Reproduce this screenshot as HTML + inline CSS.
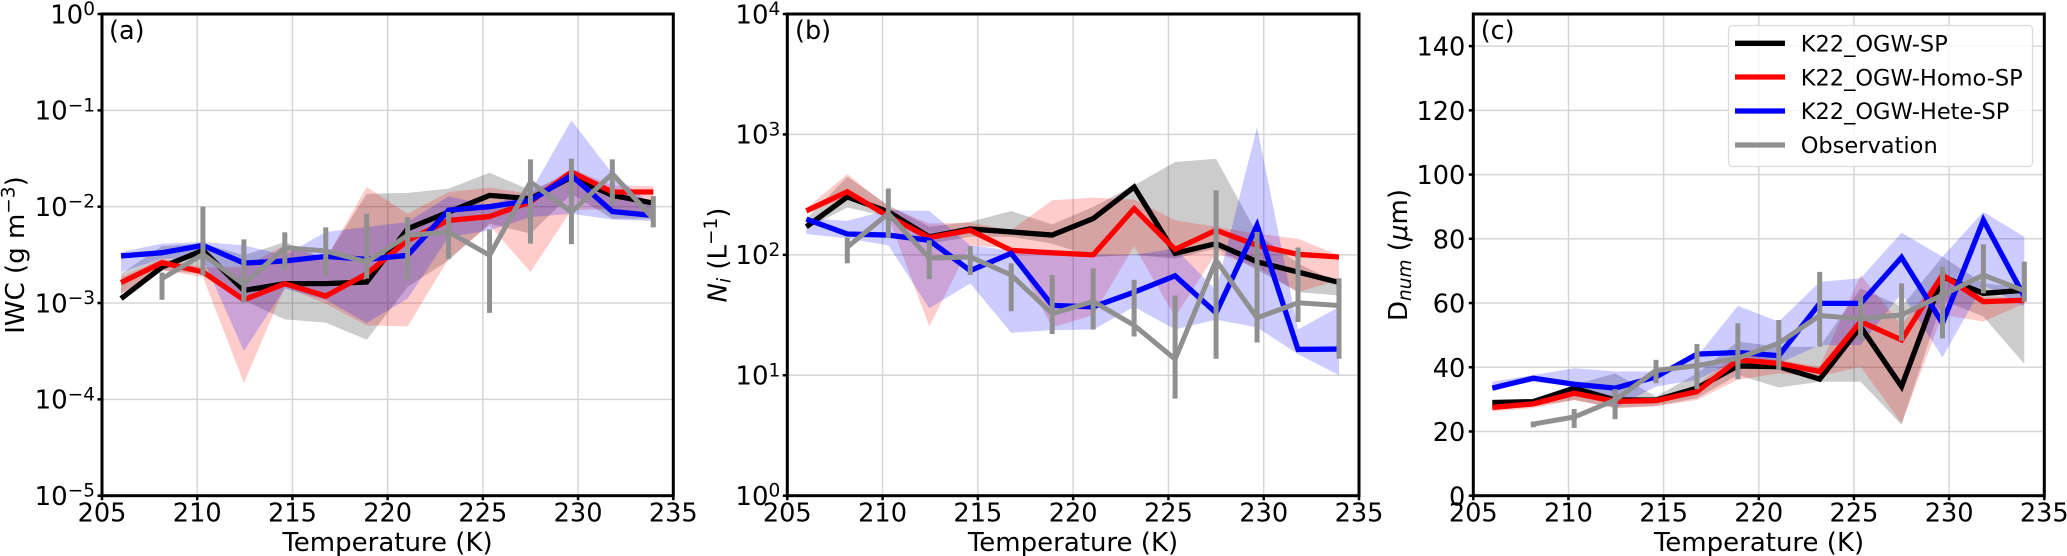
<!DOCTYPE html>
<html>
<head>
<meta charset="utf-8">
<title>Temperature dependence of IWC, Ni and Dnum</title>
<style>
html,body{margin:0;padding:0;background:#fff;width:2067px;height:556px;overflow:hidden}
svg{display:block}
text{font-family:"DejaVu Sans","Liberation Sans",sans-serif;fill:#000}
</style>
</head>
<body>
<svg id="fig" xmlns="http://www.w3.org/2000/svg" width="2067" height="556" viewBox="0 0 2067 556">
  <g id="p-a"></g>
  <g id="p-b"></g>
  <g id="p-c"></g>

  <text transform="translate(24,255) rotate(-90)" text-anchor="middle" font-size="26">IWC (g m<tspan dy="-9.5" font-size="18.5">−3</tspan><tspan dy="9.5">)</tspan></text>
  <text transform="translate(726.5,255) rotate(-90)" text-anchor="middle" font-size="26"><tspan font-style="italic">N</tspan><tspan font-style="italic" font-size="18.5" dy="4">i</tspan><tspan dy="-4"> (L</tspan><tspan dy="-9.5" font-size="18.5">−1</tspan><tspan dy="9.5">)</tspan></text>
  <text transform="translate(1407,255) rotate(-90)" text-anchor="middle" font-size="26">D<tspan font-style="italic" font-size="18.5" dy="4">num</tspan><tspan dy="-4"> (</tspan><tspan font-style="italic">μ</tspan>m)</text>

  <text x="109" y="39" font-size="25.5">(a)</text>
  <text x="795" y="39" font-size="25.5">(b)</text>
  <text x="1480.7" y="39" font-size="25.5">(c)</text>

  <text x="387.5" y="551" text-anchor="middle" font-size="26">Temperature (K)</text>
  <text x="1073" y="551" text-anchor="middle" font-size="26">Temperature (K)</text>
  <text x="1759" y="551" text-anchor="middle" font-size="26">Temperature (K)</text>

  <g>
    <rect x="1728.5" y="25.5" width="304" height="141" rx="4" ry="4" fill="#fff" fill-opacity="0.8" stroke="#dcdcdc" stroke-width="1.3"/>
    <line x1="1735" x2="1785" y1="43.3" y2="43.3" stroke="#000" stroke-width="5.3"/>
    <text x="1800.7" y="51.5" font-size="22.5">K22_OGW-SP</text>
    <line x1="1735" x2="1785" y1="77" y2="77" stroke="#f00" stroke-width="5.3"/>
    <text x="1800.7" y="85.5" font-size="22.5">K22_OGW-Homo-SP</text>
    <line x1="1735" x2="1785" y1="111" y2="111" stroke="#00f" stroke-width="5.3"/>
    <text x="1800.7" y="119" font-size="22.5">K22_OGW-Hete-SP</text>
    <line x1="1735" x2="1785" y1="145" y2="145" stroke="#909090" stroke-width="5.3"/>
    <text x="1800.7" y="153" font-size="22.5">Observation</text>
  </g>
</svg>

<script>
// Shared x data (K)
const temps = [206, 208.15, 210.3, 212.45, 214.6, 216.75, 218.9, 221.05, 223.2, 225.35, 227.5, 229.65, 231.8, 233.95];
const obsTemps = [208.15, 210.3, 212.45, 214.6, 216.75, 218.9, 221.05, 223.2, 225.35, 227.5, 229.65, 231.8, 233.95];
const xTickValues = [205, 210, 215, 220, 225, 230, 235];
const xTickLabels = ['205', '210', '215', '220', '225', '230', '235'];

// Panel (a) IWC, g m-3
const aTickExponents = [-5, -4, -3, -2, -1, 0];
const aTickLabels = ['−5', '−4', '−3', '−2', '−1', '0'];
const aBlack = [1.11e-3, 2.36e-3, 3.52e-3, 1.35e-3, 1.59e-3, 1.59e-3, 1.65e-3, 5.9e-3, 8.8e-3, 13.1e-3, 12.1e-3, 20.3e-3, 13.1e-3, 10.9e-3];
const aRed = [1.63e-3, 2.62e-3, 2.10e-3, 1.08e-3, 1.59e-3, 1.18e-3, 2.01e-3, 4.47e-3, 7.2e-3, 7.9e-3, 11.2e-3, 22.9e-3, 14.2e-3, 14.2e-3];
const aBlue = [3.08e-3, 3.33e-3, 3.97e-3, 2.60e-3, 2.73e-3, 3.05e-3, 2.84e-3, 3.13e-3, 9.2e-3, 10e-3, 11.6e-3, 21.1e-3, 8.9e-3, 8.1e-3];
const aObs = [1.79e-3, 3.2e-3, 1.56e-3, 3.75e-3, 3.47e-3, 2.67e-3, 5.04e-3, 5.46e-3, 3.13e-3, 18e-3, 8.8e-3, 22e-3, 7.5e-3];
const aObsHi = [2.07e-3, 10e-3, 4.58e-3, 5.42e-3, 6.1e-3, 8.45e-3, 7.8e-3, 8.8e-3, 5.82e-3, 31e-3, 31.5e-3, 31e-3, 12.9e-3];
const aObsLo = [1.08e-3, 1.94e-3, 1.01e-3, 2.22e-3, 1.9e-3, 1.79e-3, 1.76e-3, 2.88e-3, 0.79e-3, 4.13e-3, 4.09e-3, 10.3e-3, 6.1e-3];
const aBlackHi = [2.01e-3, 3.91e-3, 4.13e-3, 3.13e-3, 4.3e-3, 2.88e-3, 13.6e-3, 13.9e-3, 15.4e-3, 22.5e-3, 14.8e-3, 22e-3, 13.6e-3, 11.6e-3];
const aBlackLo = [1.25e-3, 2.18e-3, 2.01e-3, 1.07e-3, 0.676e-3, 0.625e-3, 0.416e-3, 1.47e-3, 2.77e-3, 6.67e-3, 5.25e-3, 13.6e-3, 7.5e-3, 7.5e-3];
const aRedHi = [1.86e-3, 2.88e-3, 2.36e-3, 2.36e-3, 3.97e-3, 2.88e-3, 16e-3, 8.45e-3, 14.2e-3, 15.7e-3, 13.6e-3, 24.8e-3, 16.6e-3, 16.3e-3];
const aRedLo = [1.25e-3, 2.18e-3, 1.86e-3, 0.148e-3, 1.47e-3, 0.984e-3, 0.586e-3, 0.573e-3, 2.88e-3, 6.4e-3, 2.1e-3, 9.2e-3, 9.5e-3, 7.5e-3];
const aBlueHi = [3.38e-3, 4.13e-3, 4.3e-3, 3.97e-3, 3.13e-3, 5.46e-3, 6.15e-3, 6.93e-3, 12.8e-3, 10.3e-3, 14.2e-3, 79e-3, 22e-3, 10.3e-3];
const aBlueLo = [2.1e-3, 2.88e-3, 2.88e-3, 0.318e-3, 1.41e-3, 1.08e-3, 0.62e-3, 1.11e-3, 4.84e-3, 5.68e-3, 7.8e-3, 8.45e-3, 7.33e-3, 7.1e-3];

// Panel (b) Ni, L-1
const bTickExponents = [0, 1, 2, 3, 4];
const bTickLabels = ['0', '1', '2', '3', '4'];
const bBlack = [171, 303, 228, 141, 164, 155, 146, 200, 366, 103, 124, 87.5, 72, 59];
const bRed = [232, 334, 209, 139, 160, 109, 104, 100, 242, 111, 160, 120, 101, 96];
const bBlue = [198, 149, 146, 132, 74, 103, 38, 37, 49, 67, 33, 176, 16.4, 16.5];
const bObs = [116, 220, 94, 96, 68, 32.5, 41, 26, 13.6, 90, 30, 40, 38];
const bObsHi = [139, 356, 132, 118, 85, 68, 77, 62, 46, 343, 155, 115, 64];
const bObsLo = [85, 139, 63, 68, 34, 22, 24, 21, 6.4, 13.7, 18.7, 27.7, 13.7];
const bBlackHi = [200, 445, 259, 171, 188, 231, 179, 250, 378, 590, 628, 150, 85, 58];
const bBlackLo = [165, 247, 207, 124, 141, 141, 124, 96, 100, 93, 113, 75, 49, 46];
const bRedHi = [243, 468, 251, 182, 185, 160, 284, 299, 288, 194, 171, 150, 136, 99];
const bRedLo = [220, 303, 207, 25.5, 120, 113, 25, 31.5, 118, 30.6, 103, 79, 49, 62];
const bBlueHi = [200, 192, 235, 232, 120, 109, 106, 100, 100, 113, 51, 1150, 24, 37];
const bBlueLo = [149, 137, 120, 36, 58, 22.5, 23.7, 24, 37, 24, 29, 25, 15, 10];

// Panel (c) Dnum, micrometres
const cTickValues = [0, 20, 40, 60, 80, 100, 120, 140];
const cTickLabels = ['0', '20', '40', '60', '80', '100', '120', '140'];
const cBlack = [29, 29.3, 33.5, 29.8, 29.8, 33.5, 40.4, 40.2, 36.3, 52.6, 34, 68.2, 63, 64];
const cRed = [27.5, 28.6, 31.9, 29.4, 29.6, 32.4, 42.3, 41.2, 38.7, 54.2, 48.5, 68.7, 60.4, 60.9];
const cBlue = [33.5, 36.6, 34.7, 33.5, 37, 44.1, 44.6, 43.6, 59.9, 59.9, 74.2, 53.7, 85.8, 62];
const cObs = [22.3, 24.5, 29.8, 39, 40.5, 42.8, 47.5, 56.1, 55.1, 56.3, 62.5, 68.7, 63.8];
const cObsHi = [23.1, 27, 33.2, 42.3, 47.2, 53.7, 54.7, 69.7, 62, 66.1, 71.3, 78.3, 72.9];
const cObsLo = [21.3, 21.1, 23.8, 35, 33.2, 36.3, 39.2, 46.4, 48, 48.2, 49, 63, 60.4];
const cBlackHi = [29.8, 29.8, 34.5, 38.1, 30.9, 38.1, 48, 46.4, 46.4, 64.6, 58.9, 74.4, 66.1, 64.9];
const cBlackLo = [26.7, 27.8, 29.8, 27.3, 28, 30.4, 37.6, 33.7, 35.5, 35.5, 22.1, 60.9, 55.8, 41];
const cRedHi = [28.8, 29.8, 33, 30.9, 30.4, 34.5, 44.4, 42.3, 40.2, 68.7, 53.2, 69.7, 62, 61.5];
const cRedLo = [26.2, 27.3, 29.8, 27.3, 27.8, 29.8, 36.1, 38.1, 37.1, 40.2, 22.6, 56.3, 54.2, 59.9];
const cBlueHi = [35.5, 37.6, 39.7, 38.7, 38.7, 43.3, 59.1, 54.2, 66.6, 67.7, 81.9, 74.4, 88.4, 80.6];
const cBlueLo = [33, 35.5, 34, 27.3, 34, 36.1, 42.3, 41.2, 46.9, 46.9, 63, 43.1, 65.6, 58.9];

const NS = 'http://www.w3.org/2000/svg';
const TOP = 14, BOTTOM = 495.7;

function mk(tag, attrs, parent) {
  const el = document.createElementNS(NS, tag);
  for (const k in attrs) el.setAttribute(k, attrs[k]);
  parent.appendChild(el);
  return el;
}

function drawPanel(root, left, right, yScale, yTicks, yLabelFn, series, obs) {
  const xScale = t => left + (t - 205) / 30 * (right - left);

  // grid
  xTickValues.slice(1, -1).forEach(v => {
    const g = mk('line', {x1: xScale(v), x2: xScale(v), y1: TOP, y2: BOTTOM, stroke: '#d6d6d6', 'stroke-width': 1.5}, root);
    
    
  });
  yTicks.forEach(v => {
    const y = yScale(v);
    if (y <= TOP + 1 || y >= BOTTOM - 1) return;
    const g = mk('line', {x1: left, x2: right, y1: y, y2: y, stroke: '#d6d6d6', 'stroke-width': 1.5}, root);
    
    
  });

  // shaded ranges
  series.forEach(s => {
    const upper = temps.map((t, i) => xScale(t) + ',' + yScale(s.hi[i]));
    const lower = temps.map((t, i) => xScale(t) + ',' + yScale(s.lo[i])).reverse();
    const p = mk('polygon', {points: upper.concat(lower).join(' '), fill: s.color, 'fill-opacity': 0.2, stroke: 'none'}, root);
    
    
  });

  // model lines
  series.forEach(s => {
    const pts = temps.map((t, i) => xScale(t) + ',' + yScale(s.mid[i])).join(' ');
    const l = mk('polyline', {points: pts, fill: 'none', stroke: s.color, 'stroke-width': 5.3, 'stroke-linejoin': 'miter', 'stroke-miterlimit': 6, 'stroke-linecap': 'butt'}, root);
    
    
  });

  // observation line and error bars
  const oPts = obsTemps.map((t, i) => xScale(t) + ',' + yScale(obs.mid[i])).join(' ');
  const ol = mk('polyline', {points: oPts, fill: 'none', stroke: '#909090', 'stroke-width': 5, 'stroke-linejoin': 'miter', 'stroke-miterlimit': 6}, root);
  
  
  obsTemps.forEach((t, i) => {
    const e = mk('line', {x1: xScale(t), x2: xScale(t), y1: yScale(obs.hi[i]), y2: yScale(obs.lo[i]), stroke: '#909090', 'stroke-width': 5}, root);
    
    
  });

  // spines
  const frame = mk('rect', {x: left, y: TOP, width: right - left, height: BOTTOM - TOP, fill: 'none', stroke: '#000', 'stroke-width': 3}, root);
  
  

  // x ticks
  xTickValues.forEach((v, i) => {
    const x = xScale(v);
    const tk = mk('line', {x1: x, x2: x, y1: BOTTOM, y2: BOTTOM + 4.5, stroke: '#000', 'stroke-width': 2.5}, root);
    
    
    const lb = mk('text', {x: x, y: 521.7, 'text-anchor': 'middle', 'font-size': 25.6}, root);
    lb.textContent = xTickLabels[i];
    
    
  });

  // y ticks
  yTicks.forEach((v, i) => {
    const y = yScale(v);
    const tk = mk('line', {x1: left - 4.5, x2: left, y1: y, y2: y, stroke: '#000', 'stroke-width': 2.5}, root);
    
    
    const lb = yLabelFn(root, left, y, i);
    
    
  });
}

function powerLabel(labels) {
  return function (root, left, y, i) {
    const t = mk('text', {x: left - 7, y: y + 9.3, 'text-anchor': 'end', 'font-size': 26}, root);
    t.appendChild(document.createTextNode('10'));
    const sup = mk('tspan', {dy: -8.3, 'font-size': 18.5}, t);
    sup.textContent = labels[i];
    return t;
  };
}

function plainLabel(labels) {
  return function (root, left, y, i) {
    const t = mk('text', {x: left - 8, y: y + 9.6, 'text-anchor': 'end', 'font-size': 25.6}, root);
    t.textContent = labels[i];
    return t;
  };
}

function logScale(minExp, maxExp) {
  return v => BOTTOM - (Math.log10(v) - minExp) / (maxExp - minExp) * (BOTTOM - TOP);
}

const yA = logScale(-5, 0);
const yB = logScale(0, 4);
const yC = v => BOTTOM - v / 150 * (BOTTOM - TOP);

drawPanel(document.getElementById('p-a'), 102, 673.3, yA, aTickExponents.map(e => Math.pow(10, e)), powerLabel(aTickLabels), [
  {name: 'k22-ogw-sp', color: '#000', mid: aBlack, hi: aBlackHi, lo: aBlackLo},
  {name: 'k22-ogw-homo-sp', color: '#f00', mid: aRed, hi: aRedHi, lo: aRedLo},
  {name: 'k22-ogw-hete-sp', color: '#00f', mid: aBlue, hi: aBlueHi, lo: aBlueLo}
], {mid: aObs, hi: aObsHi, lo: aObsLo});

drawPanel(document.getElementById('p-b'), 787.3, 1359, yB, bTickExponents.map(e => Math.pow(10, e)), powerLabel(bTickLabels), [
  {name: 'k22-ogw-sp', color: '#000', mid: bBlack, hi: bBlackHi, lo: bBlackLo},
  {name: 'k22-ogw-homo-sp', color: '#f00', mid: bRed, hi: bRedHi, lo: bRedLo},
  {name: 'k22-ogw-hete-sp', color: '#00f', mid: bBlue, hi: bBlueHi, lo: bBlueLo}
], {mid: bObs, hi: bObsHi, lo: bObsLo});

drawPanel(document.getElementById('p-c'), 1473.3, 2044.3, yC, cTickValues, plainLabel(cTickLabels), [
  {name: 'k22-ogw-sp', color: '#000', mid: cBlack, hi: cBlackHi, lo: cBlackLo},
  {name: 'k22-ogw-homo-sp', color: '#f00', mid: cRed, hi: cRedHi, lo: cRedLo},
  {name: 'k22-ogw-hete-sp', color: '#00f', mid: cBlue, hi: cBlueHi, lo: cBlueLo}
], {mid: cObs, hi: cObsHi, lo: cObsLo});
</script>
</body>
</html>
